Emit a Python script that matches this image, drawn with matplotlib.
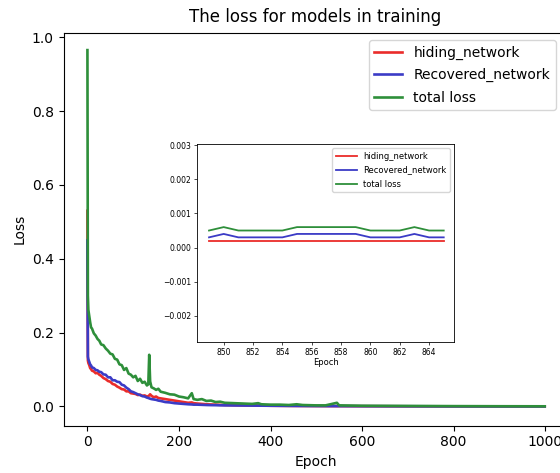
import numpy as np
import matplotlib
matplotlib.use("Agg")
import matplotlib.pyplot as plt

# main training curves (sparse epochs)
epochs = [0, 1, 2, 4, 6, 8, 10, 14, 18, 22, 26, 30, 35, 40, 45, 50, 55, 60, 65, 70,
          75, 80, 85, 90, 95, 100, 105, 110, 115, 120, 125, 130, 133, 135, 137, 140,
          145, 150, 155, 160, 170, 180, 190, 200, 210, 220, 228, 232, 240, 250, 260,
          270, 280, 290, 300, 320, 340, 360, 373, 380, 400, 420, 440, 457, 470, 500,
          520, 545, 550, 600, 700, 800, 900, 999]

hiding_loss = [0.53, 0.125, 0.118, 0.112, 0.104, 0.101, 0.097, 0.095, 0.090, 0.091,
               0.086, 0.083, 0.077, 0.074, 0.069, 0.067, 0.061, 0.059, 0.054, 0.051,
               0.047, 0.046, 0.041, 0.041, 0.036, 0.035, 0.034, 0.031, 0.032, 0.029,
               0.030, 0.027, 0.028, 0.030, 0.033, 0.029, 0.025, 0.027, 0.023, 0.022,
               0.020, 0.018, 0.016, 0.014, 0.012, 0.010, 0.011, 0.009, 0.008, 0.007,
               0.006, 0.0055, 0.005, 0.0045, 0.004, 0.0035, 0.003, 0.0028, 0.0026, 0.0025,
               0.002, 0.0018, 0.0016, 0.0015, 0.0014, 0.0012, 0.0011, 0.001, 0.001, 0.0008,
               0.0005, 0.0003, 0.0002, 0.0002]

recovered_loss = [0.45, 0.135, 0.128, 0.121, 0.114, 0.111, 0.106, 0.104, 0.099, 0.098,
                  0.094, 0.093, 0.087, 0.086, 0.079, 0.079, 0.071, 0.071, 0.067, 0.066,
                  0.059, 0.057, 0.051, 0.047, 0.041, 0.039, 0.036, 0.033, 0.031, 0.028,
                  0.027, 0.024, 0.023, 0.022, 0.021, 0.020, 0.019, 0.018, 0.016, 0.015,
                  0.012, 0.011, 0.009, 0.008, 0.007, 0.006, 0.0055, 0.005, 0.005, 0.0045,
                  0.004, 0.0037, 0.0035, 0.0032, 0.003, 0.0028, 0.0026, 0.0024, 0.0023, 0.0022,
                  0.002, 0.0018, 0.0016, 0.0015, 0.0014, 0.0012, 0.0011, 0.001, 0.001, 0.0008,
                  0.0006, 0.0004, 0.0003, 0.0003]

total_loss = [0.965, 0.30, 0.262, 0.245, 0.228, 0.214, 0.211, 0.198, 0.192, 0.183,
              0.178, 0.168, 0.166, 0.157, 0.151, 0.143, 0.141, 0.129, 0.127, 0.114,
              0.112, 0.099, 0.104, 0.089, 0.086, 0.079, 0.083, 0.069, 0.075, 0.064,
              0.067, 0.057, 0.060, 0.140, 0.068, 0.052, 0.049, 0.045, 0.048, 0.040,
              0.037, 0.033, 0.032, 0.027, 0.025, 0.022, 0.036, 0.020, 0.018, 0.020,
              0.015, 0.016, 0.012, 0.013, 0.010, 0.009, 0.008, 0.007, 0.009, 0.006,
              0.005, 0.005, 0.004, 0.006, 0.004, 0.003, 0.003, 0.010, 0.003, 0.002,
              0.0015, 0.001, 0.0007, 0.0005]

# zoomed-in window
inset_epochs = [849, 850, 851, 852, 853, 854, 855, 856, 857, 858, 859, 860, 861, 862, 863, 864, 865]
inset_hiding = [0.0002] * 17
inset_recovered = [0.0003, 0.0004, 0.0003, 0.0003, 0.0003, 0.0003, 0.0004, 0.0004, 0.0004,
                   0.0004, 0.0004, 0.0003, 0.0003, 0.0003, 0.0004, 0.0003, 0.0003]
inset_total = [0.0005, 0.0006, 0.0005, 0.0005, 0.0005, 0.0005, 0.0006, 0.0006, 0.0006,
               0.0006, 0.0006, 0.0005, 0.0005, 0.0005, 0.0006, 0.0005, 0.0005]

labels = ['hiding_network', 'Recovered_network', 'total loss']
colors = ['#ea2c2a', '#3b3bc6', '#2e8f3a']

fig = plt.figure(figsize=(5.6, 4.73), dpi=100)
ax = fig.add_axes([0.1136, 0.1004, 0.9, 0.8296])
ax.plot(epochs, hiding_loss, color=colors[0], linewidth=1.9, label=labels[0])
ax.plot(epochs, recovered_loss, color=colors[1], linewidth=1.9, label=labels[1])
ax.plot(epochs, total_loss, color=colors[2], linewidth=1.9, label=labels[2])
ax.set_xlim(-52, 1049)
ax.set_ylim(-0.0515, 1.011)
ax.set_title('The loss for models in training', fontsize=12, pad=8)
ax.set_xlabel('Epoch')
ax.set_ylabel('Loss')
ax.legend(loc='upper right', fontsize=10, labelspacing=0.6, bbox_to_anchor=(0.99, 1.0))

axin = fig.add_axes([0.3523, 0.2763, 0.4584, 0.4192])
axin.plot(inset_epochs, inset_hiding, color=colors[0], linewidth=1.3, label=labels[0])
axin.plot(inset_epochs, inset_recovered, color=colors[1], linewidth=1.3, label=labels[1])
axin.plot(inset_epochs, inset_total, color=colors[2], linewidth=1.3, label=labels[2])
axin.set_xlim(848.2, 865.7)
axin.set_ylim(-0.00277, 0.00303)
axin.set_xticks([850, 852, 854, 856, 858, 860, 862, 864])
axin.set_yticks([-0.002, -0.001, 0.0, 0.001, 0.002, 0.003])
axin.tick_params(labelsize=5.5, length=2, width=0.5, pad=2)
axin.set_xlabel('Epoch', fontsize=6, labelpad=1)
for s in axin.spines.values():
    s.set_linewidth(0.6)
axin.legend(loc='upper right', fontsize=6, handlelength=2.5, labelspacing=0.6)

fig.savefig('out.png', dpi=100)
